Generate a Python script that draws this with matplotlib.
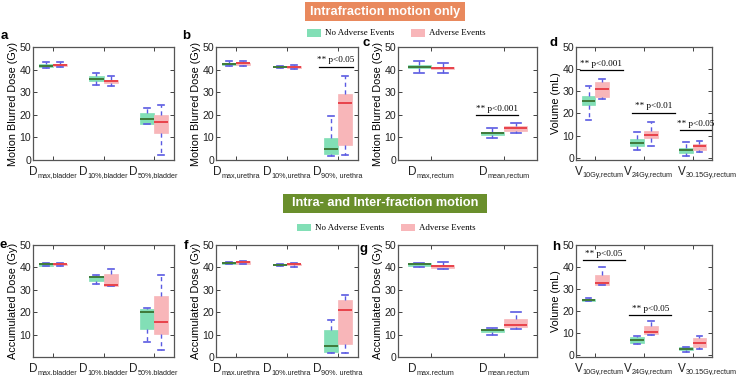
import matplotlib
matplotlib.use("Agg")
import matplotlib.pyplot as plt
from matplotlib.patches import Rectangle
from matplotlib.font_manager import FontProperties
from matplotlib.textpath import text_to_path

plt.rcParams["font.family"] = "Liberation Sans"

W, H = 738, 375

# box stats per group: [lower whisker, q1, median, q3, upper whisker]
a_labels = [("D", "max,bladder"), ("D", "10%,bladder"), ("D", "50%,bladder")]
a_no = [[40.8, 41.3, 41.8, 42.3, 43.2], [33.4, 34.9, 35.9, 37.0, 38.3], [15.8, 16.0, 18.0, 20.7, 22.9]]
a_adv = [[41.2, 41.6, 42.0, 42.4, 43.2], [32.8, 34.0, 34.8, 35.5, 37.0], [2.1, 12.1, 16.8, 19.9, 24.2]]

b_labels = [("D", "max,urethra"), ("D", "10%,urethra"), ("D", "90%, urethra")]
b_no = [[41.4, 42.1, 42.6, 43.0, 44.0], [40.9, 41.0, 41.2, 41.4, 41.5], [1.8, 2.8, 4.9, 9.6, 19.5]]
b_adv = [[41.7, 42.2, 42.7, 43.0, 43.6], [40.4, 40.9, 41.2, 41.5, 42.2], [2.4, 6.6, 25.1, 29.1, 37.2]]
b_sig = [(2.63, 3.30, 41.3, "** p<0.05")]

c_labels = [("D", "max,rectum"), ("D", "mean,rectum")]
c_no = [[38.4, 40.5, 41.3, 42.0, 43.8], [9.6, 11.1, 11.8, 12.5, 14.0]]
c_adv = [[38.6, 40.1, 40.7, 41.3, 43.1], [12.1, 12.9, 14.0, 15.1, 16.2]]
c_sig = [(1.62, 2.19, 19.9, "** p<0.001")]

d_labels = [("V", "10Gy,rectum"), ("V", "24Gy,rectum"), ("V", "30.15Gy,rectum")]
d_no = [[17.1, 23.7, 25.5, 27.9, 32.2], [3.5, 5.3, 6.8, 8.3, 11.5], [0.8, 2.3, 3.5, 4.5, 7.1]]
d_adv = [[26.4, 27.4, 31.0, 34.0, 35.6], [5.3, 8.8, 10.3, 12.1, 16.0], [2.4, 3.5, 5.2, 6.1, 7.7]]
d_sig = [(0.68, 1.57, 39.7, "** p<0.001"), (1.75, 2.64, 20.4, "** p<0.01"), (2.74, 3.38, 12.5, "** p<0.05")]

e_labels = a_labels
e_no = [[40.6, 40.8, 41.4, 41.7, 41.9], [32.8, 34.1, 35.9, 36.3, 36.4], [6.6, 12.5, 19.9, 21.4, 21.9]]
e_adv = [[40.7, 40.9, 41.3, 41.7, 42.0], [31.9, 31.9, 32.2, 37.0, 39.2], [3.3, 10.4, 15.8, 27.3, 36.7]]

f_labels = b_labels
f_no = [[41.5, 41.7, 42.1, 42.4, 42.5], [40.8, 40.9, 41.1, 41.3, 41.4], [1.6, 2.1, 4.8, 11.9, 16.7]]
f_adv = [[41.4, 41.6, 42.3, 42.7, 42.9], [40.4, 40.9, 41.3, 41.6, 42.0], [1.9, 6.0, 20.8, 25.6, 27.5]]

g_labels = c_labels
g_no = [[40.3, 40.5, 41.3, 41.8, 42.1], [9.9, 11.3, 12.1, 12.7, 12.9]]
g_adv = [[39.4, 39.9, 40.6, 41.2, 42.2], [12.4, 13.2, 14.1, 16.9, 20.0]]

h_labels = d_labels
h_no = [[24.3, 24.4, 25.0, 25.6, 25.7], [4.9, 5.5, 6.6, 7.9, 8.7], [1.3, 2.1, 2.7, 3.4, 3.7]]
h_adv = [[31.9, 32.0, 32.9, 36.4, 40.0], [9.0, 9.3, 10.6, 13.3, 15.6], [2.8, 3.4, 5.2, 7.6, 8.5]]
h_sig = [(0.75, 1.61, 43.0, "** p<0.05"), (1.70, 2.56, 18.0, "** p<0.05")]

GREEN = "#82DFB6"
PINK = "#F8B6B9"
GREEN_MED = "#3F7A3A"
PINK_MED = "#E8424A"
WHISK = "#5A5AE2"
ORANGE = "#E9895D"
OLIVE = "#6A8F2C"


def rect(x0, y0, x1, y1):
    # pixel box (top-left origin) -> figure fraction
    return [x0 / W, 1 - y1 / H, (x1 - x0) / W, (y1 - y0) / H]


def text_w(s, size, family="Liberation Sans"):
    w, _, _ = text_to_path.get_text_width_height_descent(s, FontProperties(family=family, size=size), ismath=False)
    return w


def draw_panel(ax, labels, no_adv, adv, ylabel, ylim, yticks, sig=(), label_shift=None):
    n = len(labels)
    centers = list(range(1, n + 1))
    if n == 3:
        off, w, xlim = 0.14, 0.28, (0.6, 3.4)
    else:
        off, w, xlim = 0.16, 0.32, (0.55, 2.45)
    for rows, sign, fc, mc in [(no_adv, -1, GREEN, GREEN_MED), (adv, 1, PINK, PINK_MED)]:
        stats = [dict(whislo=r[0], q1=r[1], med=r[2], q3=r[3], whishi=r[4]) for r in rows]
        ax.bxp(stats, positions=[c + sign * off for c in centers], widths=w, capwidths=w * 0.42,
               patch_artist=True, showfliers=False, manage_ticks=False,
               boxprops=dict(facecolor=fc, edgecolor=fc, linewidth=0.5),
               medianprops=dict(color=mc, linewidth=1.4),
               whiskerprops=dict(color=WHISK, linestyle=(0, (3, 2.5)), linewidth=1),
               capprops=dict(color=WHISK, linewidth=1.2))
    ax.set_xlim(*xlim)
    ax.set_ylim(*ylim)
    ax.set_yticks(yticks)
    ax.set_xticks(centers)
    ax.set_xticklabels([])
    ax.tick_params(direction="in", top=True, right=True, length=3, width=0.6,
                   labelsize=7.6, pad=1.5, colors="#222222")
    for sp in ax.spines.values():
        sp.set_color("#555555")
        sp.set_linewidth(0.9)
    ax.set_ylabel(ylabel, fontsize=7.8, labelpad=1)

    # tick labels with small subscript
    shifts = label_shift or [0] * n
    for (main, sub), c, s in zip(labels, centers, shifts):
        wm = text_w(main, 8.5)
        ws = text_w(sub, 5.2)
        left = -(wm + ws) / 2
        ax.annotate(main, xy=(c + s, 0), xycoords=("data", "axes fraction"), xytext=(left, -10.5),
                    textcoords="offset points", ha="left", va="baseline", fontsize=8.5, color="#222222",
                    annotation_clip=False)
        ax.annotate(sub, xy=(c + s, 0), xycoords=("data", "axes fraction"), xytext=(left + wm, -12.3),
                    textcoords="offset points", ha="left", va="baseline", fontsize=5.2, color="#222222",
                    annotation_clip=False)

    for x0, x1, y, txt in sig:
        ax.plot([x0, x1], [y, y], color="black", linewidth=0.9, clip_on=False)
        ax.text((x0 + x1) / 2, y + 1.0, txt, ha="center", va="bottom", fontsize=6.6,
                family="Liberation Serif", clip_on=False)


fig = plt.figure(figsize=(W / 100, H / 100), dpi=100)

dose_ticks = [0, 10, 20, 30, 40, 50]
top = (47, 160)
bot = (245, 357)
cols = [(33, 174), (216, 358), (398, 537), (576, 712)]

ax_a = fig.add_axes(rect(cols[0][0], top[0], cols[0][1], top[1]))
draw_panel(ax_a, a_labels, a_no, a_adv, "Motion Blurred Dose (Gy)", (0, 50), dose_ticks)
ax_b = fig.add_axes(rect(cols[1][0], top[0], cols[1][1], top[1]))
draw_panel(ax_b, b_labels, b_no, b_adv, "Motion Blurred Dose (Gy)", (0, 50), dose_ticks, b_sig)
ax_c = fig.add_axes(rect(cols[2][0], top[0], cols[2][1], top[1]))
draw_panel(ax_c, c_labels, c_no, c_adv, "Motion Blurred Dose (Gy)", (0, 50), dose_ticks, c_sig)
ax_d = fig.add_axes(rect(cols[3][0], top[0], cols[3][1], top[1]))
draw_panel(ax_d, d_labels, d_no, d_adv, "Volume (mL)", (-1, 50), dose_ticks, d_sig, [0.08, 0.08, 0.3])

ax_e = fig.add_axes(rect(cols[0][0], bot[0], cols[0][1], bot[1]))
draw_panel(ax_e, e_labels, e_no, e_adv, "Accumulated Dose (Gy)", (0, 50), dose_ticks[1:])
ax_f = fig.add_axes(rect(cols[1][0], bot[0], cols[1][1], bot[1]))
draw_panel(ax_f, f_labels, f_no, f_adv, "Accumulated Dose (Gy)", (0, 50), dose_ticks)
ax_g = fig.add_axes(rect(cols[2][0], bot[0], cols[2][1], bot[1]))
draw_panel(ax_g, g_labels, g_no, g_adv, "Accumulated Dose (Gy)", (0, 50), dose_ticks)
ax_h = fig.add_axes(rect(cols[3][0], bot[0], cols[3][1], bot[1]))
draw_panel(ax_h, h_labels, h_no, h_adv, "Volume (mL)", (-1, 50), dose_ticks, h_sig, [0.08, 0.08, 0.3])

# panel letters
for letter, x, y in [("a", 4, 36), ("b", 186, 36), ("c", 366, 43), ("d", 553, 43),
                     ("e", 3, 245), ("f", 186, 246), ("g", 363, 249), ("h", 556, 247)]:
    fig.text(x / W, 1 - y / H, letter, fontsize=9.5, fontweight="bold", ha="center", va="center")

# section banners
for (x0, y0, x1, y1), color, title in [((305, 2, 465, 21), ORANGE, "Intrafraction motion only"),
                                       ((283, 194, 487, 213), OLIVE, "Intra- and Inter-fraction motion")]:
    fig.patches.append(Rectangle(rect(x0, y0, x1, y1)[:2], (x1 - x0) / W, (y1 - y0) / H,
                                 transform=fig.transFigure, facecolor=color, edgecolor="none"))
    fig.text((x0 + x1) / 2 / W, 1 - (y0 + y1) / 2 / H, title, color="white", fontsize=9.2,
             fontweight="bold", ha="center", va="center")

# legends
for y, gx, px in [(33, 307, 411), (228, 297, 401)]:
    for x, color, name in [(gx, GREEN, "No Adverse Events"), (px, PINK, "Adverse Events")]:
        fig.patches.append(Rectangle(((x) / W, 1 - (y + 3.5) / H), 14 / W, 7 / H,
                                     transform=fig.transFigure, facecolor=color, edgecolor="none"))
        fig.text((x + 18) / W, 1 - y / H, name, fontsize=6.4, family="Liberation Serif",
                 ha="left", va="center")

fig.savefig("out.png", dpi=100)
